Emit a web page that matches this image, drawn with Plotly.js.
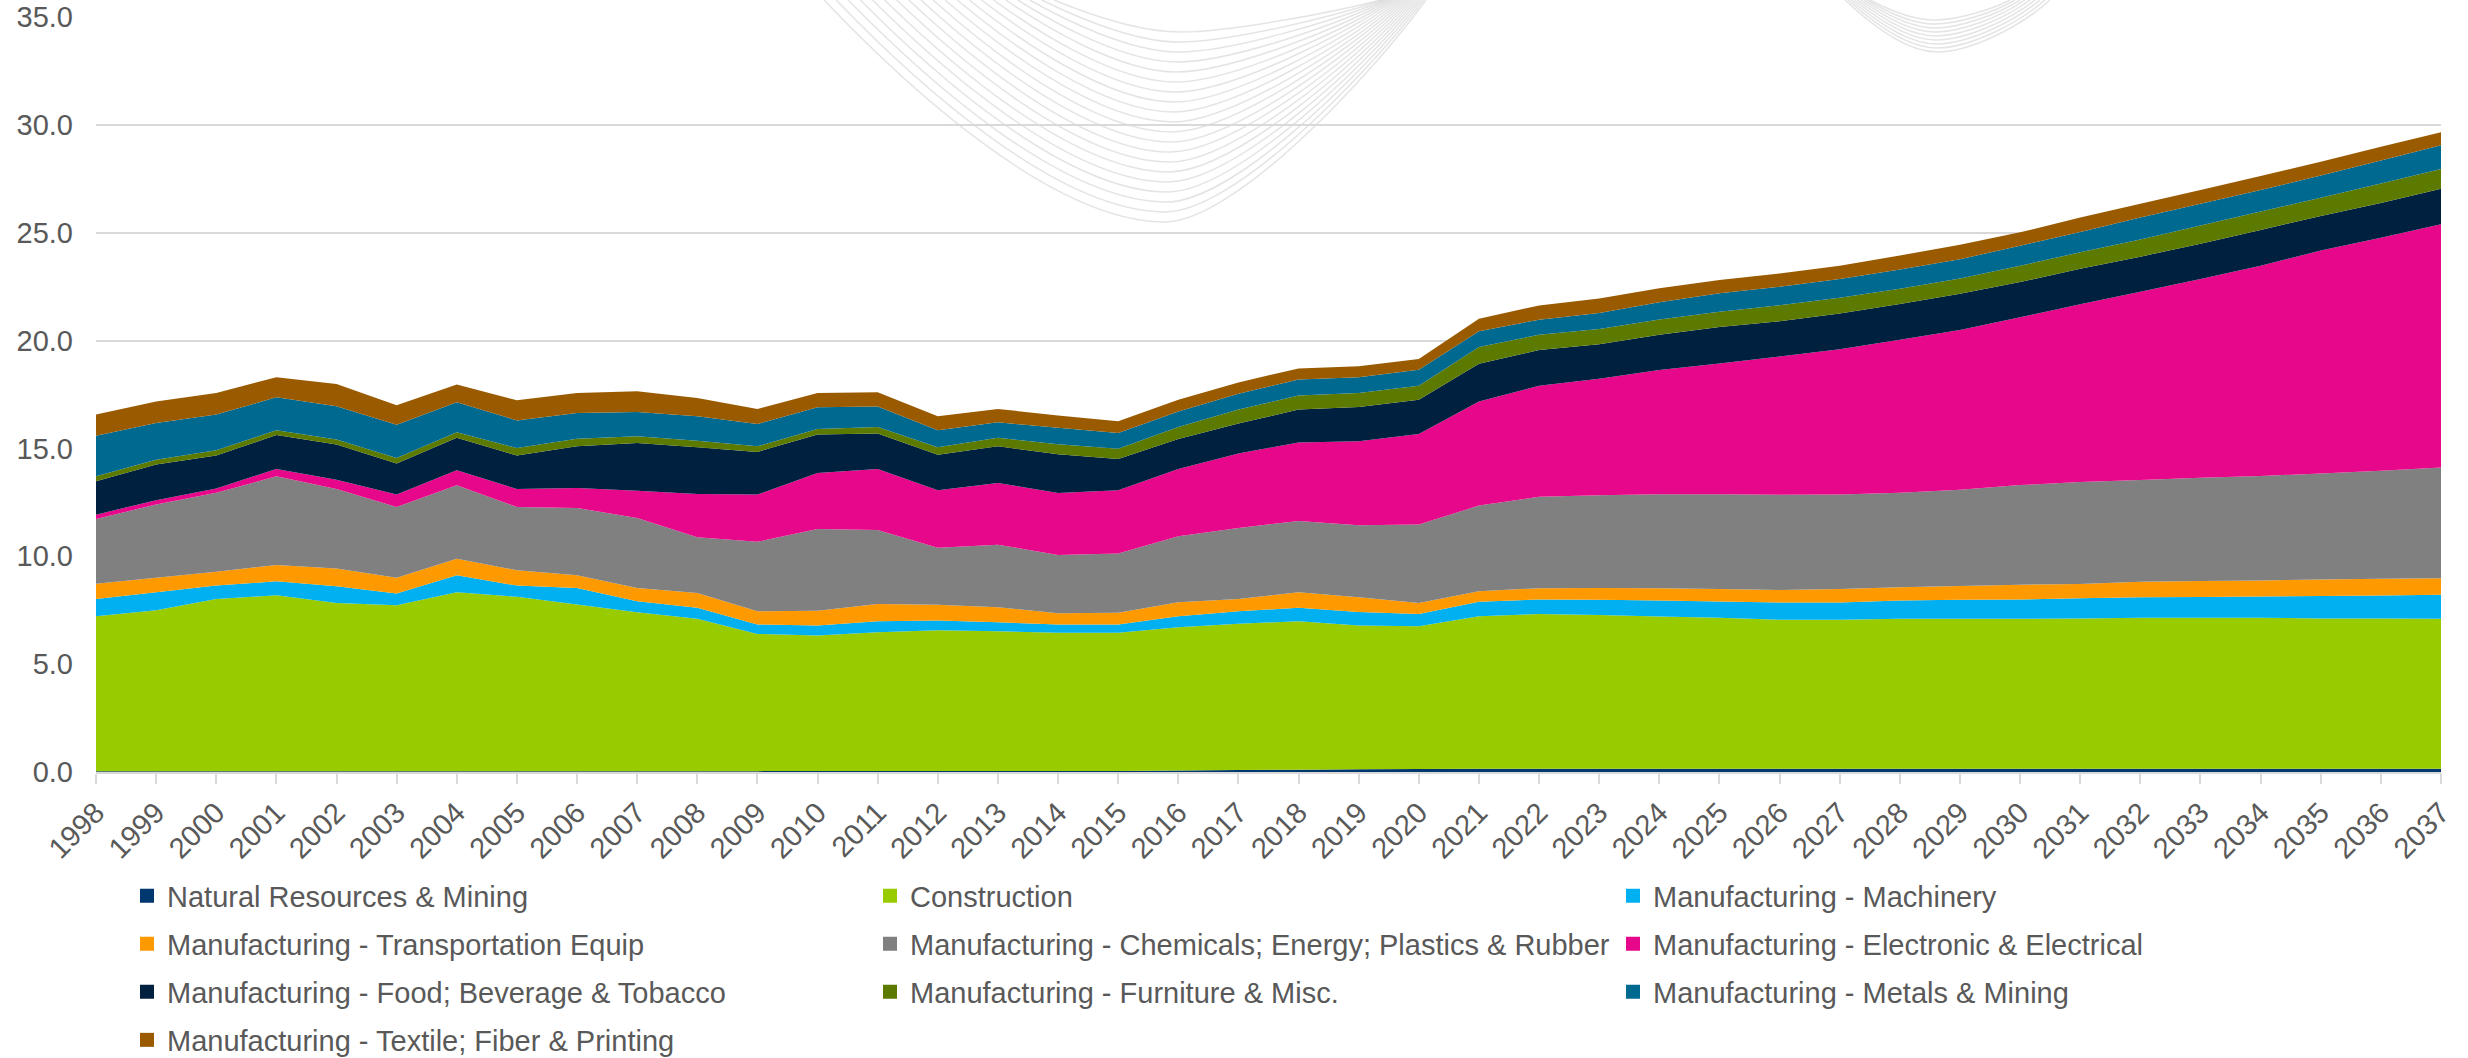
<!DOCTYPE html>
<html>
<head>
<meta charset="utf-8">
<script src="https://cdn.plot.ly/plotly-3.0.1.min.js"></script>
<style>
  html, body { margin: 0; padding: 0; background: #ffffff; }
  #chart { width: 2468px; height: 1058px; }
</style>
</head>
<body>
<div id="chart"></div>
<script>
const years = [1998,1999,2000,2001,2002,2003,2004,2005,2006,2007,2008,2009,2010,2011,2012,2013,2014,2015,2016,2017,2018,2019,2020,2021,2022,2023,2024,2025,2026,2027,2028,2029,2030,2031,2032,2033,2034,2035,2036,2037];

const naturalResources = [0.03,0.03,0.03,0.03,0.03,0.03,0.03,0.03,0.03,0.03,0.03,0.04,0.05,0.05,0.05,0.05,0.05,0.05,0.07,0.09,0.11,0.13,0.14,0.15,0.15,0.15,0.15,0.15,0.15,0.15,0.15,0.15,0.15,0.15,0.15,0.15,0.15,0.15,0.15,0.15];
const construction = [7.19,7.47,7.99,8.16,7.81,7.70,8.30,8.09,7.73,7.38,7.07,6.36,6.28,6.43,6.52,6.48,6.40,6.40,6.64,6.78,6.88,6.66,6.62,7.07,7.18,7.13,7.06,7.00,6.91,6.91,6.95,6.95,6.95,6.97,7.00,7.00,7.00,6.97,6.97,6.96];
const machinery = [0.80,0.83,0.62,0.65,0.77,0.54,0.79,0.52,0.77,0.51,0.51,0.44,0.46,0.51,0.45,0.41,0.39,0.39,0.51,0.58,0.62,0.63,0.57,0.67,0.67,0.70,0.74,0.75,0.80,0.80,0.85,0.88,0.90,0.93,0.95,0.96,0.98,1.04,1.06,1.11];
const transportation = [0.71,0.68,0.64,0.76,0.82,0.73,0.76,0.71,0.59,0.61,0.69,0.61,0.69,0.80,0.73,0.70,0.52,0.54,0.65,0.57,0.72,0.68,0.51,0.49,0.52,0.55,0.57,0.58,0.58,0.62,0.62,0.64,0.68,0.67,0.72,0.75,0.75,0.76,0.78,0.76];
const chemicals = [3.00,3.39,3.66,4.11,3.69,3.29,3.41,2.94,3.12,3.25,2.58,3.22,3.79,3.43,2.64,2.90,2.70,2.75,3.06,3.29,3.31,3.34,3.63,3.97,4.24,4.30,4.36,4.40,4.41,4.38,4.38,4.47,4.62,4.72,4.72,4.78,4.84,4.92,5.00,5.14];
const electronic = [0.20,0.20,0.20,0.34,0.43,0.58,0.70,0.83,0.93,1.26,2.01,2.19,2.59,2.83,2.67,2.86,2.87,2.93,3.12,3.45,3.64,3.89,4.20,4.83,5.14,5.40,5.76,6.06,6.41,6.74,7.09,7.40,7.78,8.24,8.72,9.22,9.75,10.33,10.81,11.27];
const food = [1.55,1.65,1.53,1.57,1.63,1.43,1.50,1.55,1.93,2.21,2.16,1.98,1.78,1.64,1.65,1.70,1.80,1.45,1.39,1.39,1.52,1.59,1.59,1.75,1.66,1.60,1.63,1.69,1.63,1.65,1.65,1.68,1.63,1.65,1.63,1.63,1.66,1.61,1.61,1.65];
const furniture = [0.23,0.23,0.24,0.22,0.23,0.26,0.26,0.35,0.35,0.31,0.31,0.26,0.26,0.30,0.34,0.39,0.46,0.47,0.55,0.65,0.65,0.65,0.65,0.77,0.71,0.71,0.71,0.71,0.75,0.74,0.71,0.71,0.76,0.76,0.80,0.84,0.85,0.84,0.90,0.91];
const metals = [1.88,1.70,1.66,1.53,1.54,1.54,1.39,1.28,1.19,1.13,1.13,1.03,1.01,0.95,0.79,0.72,0.77,0.74,0.72,0.74,0.74,0.73,0.74,0.73,0.70,0.74,0.80,0.85,0.85,0.86,0.89,0.89,0.93,0.94,1.01,1.01,1.00,1.03,1.07,1.10];
const textile = [0.98,1.00,1.00,0.93,1.04,0.90,0.82,0.93,0.93,0.96,0.85,0.70,0.66,0.66,0.65,0.62,0.57,0.54,0.55,0.52,0.52,0.51,0.50,0.58,0.66,0.67,0.64,0.62,0.62,0.62,0.65,0.67,0.62,0.67,0.64,0.64,0.65,0.64,0.64,0.61];

const seriesNames = [
  "Natural Resources & Mining",
  "Construction",
  "Manufacturing - Machinery",
  "Manufacturing - Transportation Equip",
  "Manufacturing - Chemicals; Energy; Plastics & Rubber",
  "Manufacturing - Electronic & Electrical",
  "Manufacturing - Food; Beverage & Tobacco",
  "Manufacturing - Furniture & Misc.",
  "Manufacturing - Metals & Mining",
  "Manufacturing - Textile; Fiber & Printing"
];
const seriesValues = [naturalResources, construction, machinery, transportation, chemicals, electronic, food, furniture, metals, textile];
const seriesColors = ["#00376e","#99cc00","#00b0f0","#ff9900","#808080","#e6078a","#00203f","#5c7a00","#00698f","#9a5b00"];
const yTicks = [0,5,10,15,20,25,30,35];

const FONT = "Arial, 'Liberation Sans', sans-serif";
const TXT = "#595959";

const traces = [];
seriesValues.forEach((vals, i) => {
  traces.push({
    type: "scatter",
    x: years,
    y: vals,
    name: seriesNames[i],
    stackgroup: "one",
    mode: "none",
    fillcolor: seriesColors[i],
    line: {width: 0, color: seriesColors[i]},
    showlegend: false,
    hoverinfo: "x+y+name"
  });
});
// legend-only entries (square markers), one legend per row of three
const legendIds = ["legend","legend2","legend3","legend4"];
seriesValues.forEach((vals, i) => {
  traces.push({
    type: "scatter",
    x: [null],
    y: [null],
    name: seriesNames[i],
    mode: "markers",
    marker: {symbol: "square", size: 14, color: seriesColors[i]},
    showlegend: true,
    legend: legendIds[Math.floor(i / 3)],
    hoverinfo: "skip"
  });
});

const rowCenters = [896, 944, 992, 1040];
function mkLegend(r) {
  return {
    orientation: "h",
    xref: "container", yref: "container",
    x: 127 / 2468, xanchor: "left",
    y: 1 - rowCenters[r] / 1058, yanchor: "middle",
    entrywidth: 698, entrywidthmode: "pixels",
    itemwidth: 30,
    bgcolor: "rgba(0,0,0,0)",
    borderwidth: 0,
    font: {family: FONT, size: 29, color: TXT},
    traceorder: "normal",
    itemclick: false, itemdoubleclick: false
  };
}

// ---- decorative background watermark (faint swoosh lines, not data) ----
const PL = 96, PR = 2441, PT = 17, PB = 772;
function px(x) { return ((x - PL) / (PR - PL)).toFixed(5); }
function py(y) { return ((PB - y) / (PB - PT)).toFixed(5); }
function swoosh(xL, xB, yB, xR, lc1, lc2, rc1, rc2) {
  const wl = xB - xL, wr = xR - xB;
  return "M" + px(xL) + "," + py(0) +
    " C" + px(xL + lc1 * wl) + "," + py(lc2 * yB) + " " + px(xL + 0.663 * wl) + "," + py(yB) + " " + px(xB) + "," + py(yB) +
    " C" + px(xB + rc1 * wr) + "," + py(yB) + " " + px(xB + 0.747 * wr) + "," + py(rc2 * yB) + " " + px(xR) + "," + py(0);
}
const decoShapes = [];
const NL = 20;
for (let k = 0; k < NL; k++) {
  const f = k / (NL - 1);
  decoShapes.push({
    type: "path", xref: "paper", yref: "paper", layer: "below",
    path: swoosh(824 + 230 * f, 1165 + 15 * f, 222 - 190 * f, 1426 - 45 * f, 0.223, 0.36, 0.249, 0.405),
    line: {color: "rgba(205,205,205,0.55)", width: 1.5}
  });
}
const NR2 = 9;
for (let k = 0; k < NR2; k++) {
  const f = k / (NR2 - 1);
  decoShapes.push({
    type: "path", xref: "paper", yref: "paper", layer: "below",
    path: swoosh(1845 + 25 * f, 1937 - 3 * f, 52 - 32 * f, 2050 - 40 * f, 0.3, 0.5, 0.3, 0.5),
    line: {color: "rgba(205,205,205,0.55)", width: 1.5}
  });
}

const layout = {
  width: 2468,
  height: 1058,
  paper_bgcolor: "#ffffff",
  plot_bgcolor: "rgba(0,0,0,0)",
  margin: {l: 96, r: 27, t: 17, b: 286, pad: 0},
  font: {family: FONT, size: 29, color: TXT},
  showlegend: true,
  legend: mkLegend(0),
  legend2: mkLegend(1),
  legend3: mkLegend(2),
  legend4: mkLegend(3),
  shapes: decoShapes,
  xaxis: {
    range: [years[0], years[years.length - 1]],
    tickmode: "array",
    tickvals: years,
    ticktext: years.map(String),
    tickangle: -45,
    ticks: "outside",
    ticklen: 10,
    tickwidth: 2,
    tickcolor: "#d9d9d9",
    showgrid: false,
    showline: true,
    linecolor: "#d9d9d9",
    linewidth: 2,
    zeroline: false,
    tickfont: {family: FONT, size: 29, color: TXT},
    fixedrange: true
  },
  yaxis: {
    range: [0, 35],
    tickmode: "array",
    tickvals: yTicks,
    tickformat: ".1f",
    showgrid: true,
    gridcolor: "#d9d9d9",
    gridwidth: 2,
    zeroline: false,
    showline: false,
    ticks: "",
    ticklabelstandoff: 22,
    tickfont: {family: FONT, size: 29, color: TXT},
    fixedrange: true
  }
};

Plotly.newPlot("chart", traces, layout, {displayModeBar: false, staticPlot: true});
</script>
</body>
</html>
